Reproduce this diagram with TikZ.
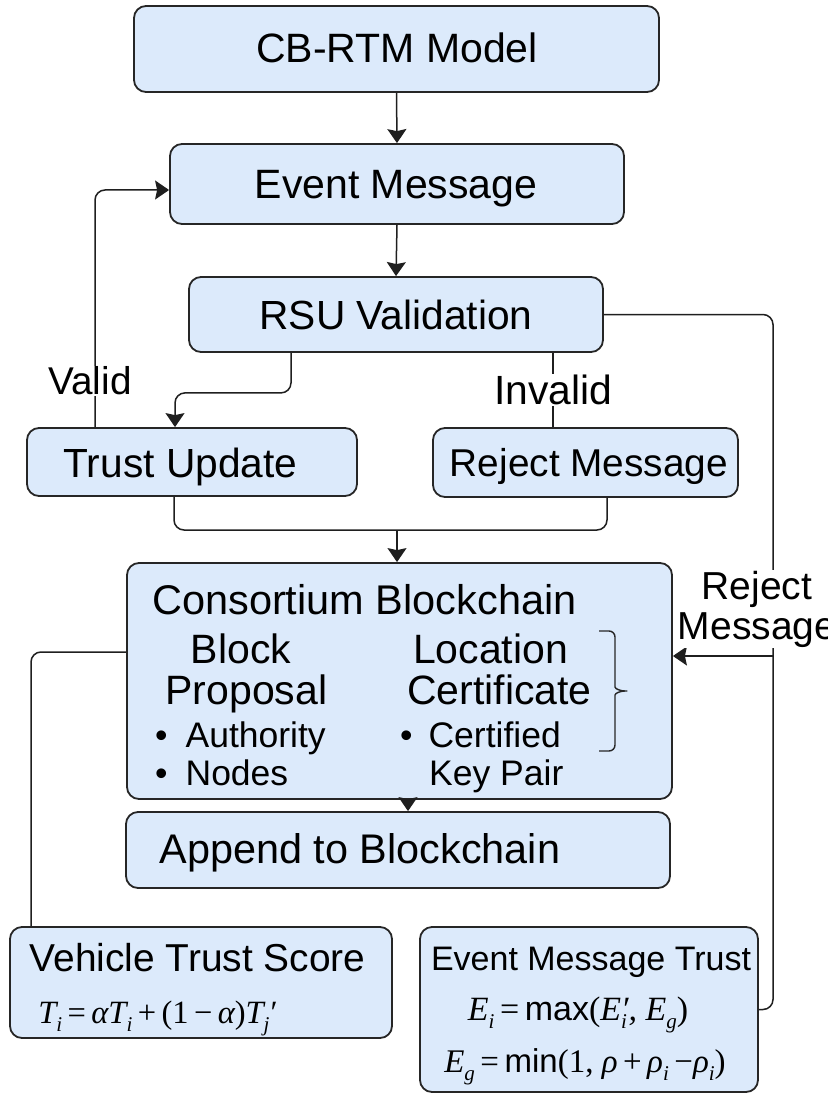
\documentclass[tikz,border=0pt]{standalone}
\usepackage{fontspec}
\setmainfont{Liberation Sans}
\newfontfamily\serif{Liberation Serif}
\usetikzlibrary{arrows.meta,decorations.pathreplacing,calc}
\definecolor{boxfill}{RGB}{220,234,251}
\definecolor{boxdraw}{RGB}{38,38,38}
\newcommand\fsz[1]{\fontsize{#1}{#1}\selectfont}
\newcommand\sbs[1]{\raisebox{-0.26em}{\fontsize{21}{21}\selectfont #1}}
\begin{document}
\begin{tikzpicture}[x=1pt,y=-1pt,
  box/.style={draw=boxdraw, line width=1.8pt, fill=boxfill, rounded corners=12pt, inner sep=0pt},
  conn/.style={draw=black!88, line width=1.5pt, rounded corners=10pt},
  arr/.style={conn, -{Stealth[length=14pt,width=19pt,inset=2pt]}},
  lbl/.style={fill=white, inner sep=1pt},
  txt/.style={inner sep=0pt, anchor=base}]
\useasboundingbox (0,0) rectangle (827,1094);

% boxes
\node[box, minimum width=525, minimum height=86] (title) at (396.5,49) {};
\node[box, minimum width=454, minimum height=80] (event) at (397,184) {};
\node[box, minimum width=414, minimum height=75] (rsu) at (396,314.5) {};
\node[box, minimum width=330, minimum height=68] (trust) at (192,462) {};
\node[box, minimum width=305, minimum height=69] (reject) at (585.5,462.5) {};
\node[box, minimum width=545, minimum height=236] (cons) at (399.5,681) {};
\node[box, minimum width=544, minimum height=76] (append) at (398,850) {};
\node[box, minimum width=382, minimum height=111] (vehicle) at (201,982.5) {};
\node[box, minimum width=338, minimum height=165] (emt) at (589,1009.5) {};

% box texts
\node[txt, font=\fsz{41}] (tTitle) at (397,62.7) {CB-RTM Model};
\node[txt, font=\fsz{41}] (tEvent) at (396,198) {Event Message};
\node[txt, font=\fsz{40.7}] (tRsu) at (396,329.6) {RSU Validation};
\node[txt, font=\fsz{40.7}] (tTrust) at (180.5,477.6) {Trust Update};
\node[txt, font=\fsz{38.8}] (tReject) at (589,476) {Reject Message};
\node[txt, font=\fsz{41.5}, anchor=base west] (tCons) at (152,614) {Consortium Blockchain};
\node[txt, font=\fsz{41}] (tBlock) at (241,663.7) {Block};
\node[txt, font=\fsz{41}] (tProp) at (246.5,704) {Proposal};
\node[txt, font=\fsz{41}] (tLoc) at (490.5,663.7) {Location};
\node[txt, font=\fsz{41}] (tCert) at (499.5,704) {Certificate};
\node[txt, font=\fsz{35.5}, anchor=base west] (tAuth) at (155,747) {•\hspace{18pt}Authority};
\node[txt, font=\fsz{35.5}, anchor=base west] (tNodes) at (155,785) {•\hspace{18pt}Nodes};
\node[txt, font=\fsz{35.5}, anchor=base west] (tCfd) at (400,747) {•\hspace{16pt}Certified};
\node[txt, font=\fsz{35.5}, anchor=base west] (tKey) at (429,785) {Key Pair};
\node[txt, font=\fsz{41.4}] (tAppend) at (360,863) {Append to Blockchain};
\node[txt, font=\fsz{38.9}] (tVeh) at (197.5,971) {Vehicle Trust Score};
\node[txt, font=\fsz{34}] (tEmt) at (591,970) {Event Message Trust};

% formulas
\node[txt, font=\fsz{32.5}] (fVeh) at (157,1023)
  {\serif\itshape T\sbs{i}\,\upshape=\,\itshape αT\sbs{i}\,\upshape+\,(1\,−\,\itshape α\upshape)\itshape T\sbs{j}\kern-1pt′};
\node[txt, font=\fsz{34}] (fEi) at (578,1020)
  {{\serif\itshape E\sbs{i}\,\upshape=\,}max{\serif(\itshape E\rlap{\sbs{i}}′, E\sbs{g}\upshape)}};
\node[txt, font=\fsz{33}] (fEg) at (585,1072)
  {{\serif\itshape E\sbs{g}\,\upshape=\,}min{\serif(1, \itshape ρ\,\upshape+\,\itshape ρ\sbs{i}\,\upshape−\itshape ρ\sbs{i}\upshape)}};

% brace
\coordinate (br1) at (599,631);
\coordinate (br2) at (599,751);
\draw[draw=black!85, line width=1.4pt, rounded corners=6pt]
  (br1) -- (615,631) -- (615,681)
  .. controls (615,689) and (621,691) .. (631,691)
  .. controls (621,691) and (615,693) .. (615,701)
  -- (615,751) -- (br2);

% helper coordinates
\coordinate (cV) at (95,0);
\coordinate (cA) at (291,0);
\coordinate (cB) at (175,0);
\coordinate (cI) at (553,0);
\coordinate (cL) at (174,0);
\coordinate (cR) at (607,0);
\coordinate (cAp) at (408,0);
\coordinate (jm) at (397,530);
\coordinate (jr) at (773,656);
\coordinate (jl) at (31,652);

% connectors
\draw[arr] (title.south) -- (event.north);
\draw[arr] (event.south) -- (rsu.north);
\draw[arr] (rsu.south -| cA) -- ++(0,40) -| (trust.north -| cB);
\draw[conn] (rsu.south -| cI) -- (reject.north -| cI);
\draw[arr] (trust.north -| cV) |- ($(event.west)+(0,6)$);
\draw[conn] (trust.south -| cL) |- (jm) -| (reject.south -| cR);
\draw[arr] (jm) -- (cons.north -| jm);
\draw[conn] (rsu.east) -| (jr);
\draw[conn] (emt.east) -| (jr);
\draw[arr] (jr) -- (cons.east |- jr);
\draw[conn] (jl -| cons.west) -| (vehicle.north -| jl);
\draw[arr] (cons.south -| cAp) -- (append.north -| cAp);

% labels on connectors
\node[lbl, font=\fsz{38.7}] (valid) at (90,381) {Valid};
\node[lbl, font=\fsz{40.8}] (invalid) at (553,390) {Invalid};
\node[lbl, font=\fontsize{39}{40}\selectfont, align=center, inner sep=0.5pt] (rjl) at (757,609) {Reject\\Message};
\end{tikzpicture}
\end{document}
